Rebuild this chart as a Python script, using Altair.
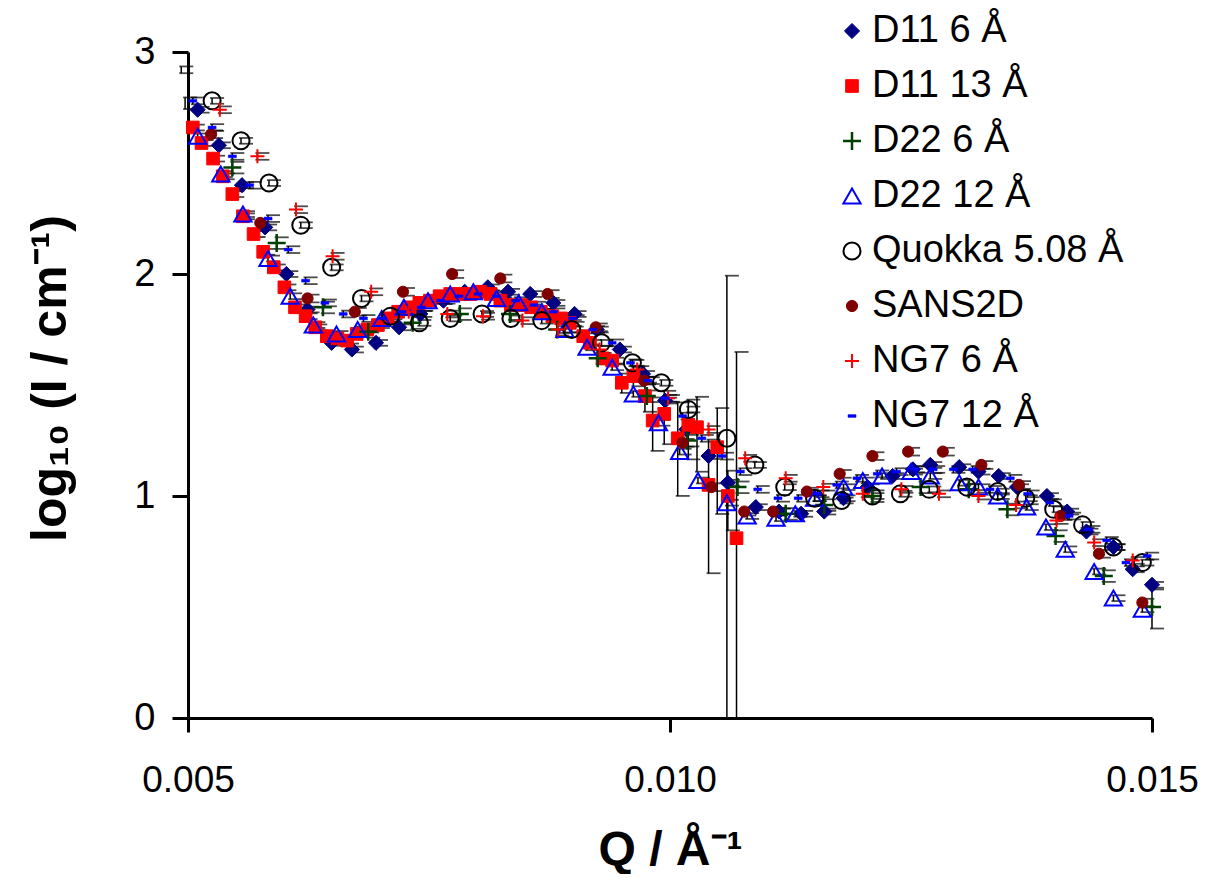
import altair as alt
import pandas as pd
import numpy as np

SERIES = ["D11 6 Å", "D11 13 Å", "D22 6 Å", "D22 12 Å",
          "Quokka 5.08 Å", "SANS2D", "NG7 6 Å", "NG7 12 Å"]

d11_6_q = [0.00510, 0.00532, 0.00556, 0.00580, 0.00602, 0.00624, 0.00649, 0.00670,
           0.00695, 0.00719, 0.00741, 0.00765, 0.00787, 0.00811, 0.00832, 0.00855,
           0.00879, 0.00901, 0.00924, 0.00948, 0.00972, 0.00995, 0.01017, 0.01040,
           0.01060, 0.01089, 0.01113, 0.01136, 0.01160, 0.01180, 0.01205, 0.01231,
           0.01252, 0.01270, 0.01300, 0.01320, 0.01341, 0.01360, 0.01391, 0.01412,
           0.01432, 0.01460, 0.01480, 0.01500]
d11_6_y = [2.74, 2.58, 2.40, 2.21, 2.00, 1.84, 1.69, 1.66,
           1.69, 1.76, 1.82, 1.88, 1.92, 1.94, 1.92, 1.91,
           1.87, 1.82, 1.75, 1.66, 1.55, 1.43, 1.30, 1.18,
           1.06, 0.95, 0.93, 0.92, 0.93, 0.99, 1.04, 1.09,
           1.12, 1.14, 1.13, 1.11, 1.09, 1.04, 1.00, 0.93,
           0.84, 0.77, 0.67, 0.60]

d11_13_q = [0.00505, 0.00514, 0.00526, 0.00536, 0.00546, 0.00557, 0.00568, 0.00578,
            0.00589, 0.00600, 0.00611, 0.00622, 0.00632, 0.00644, 0.00655, 0.00665,
            0.00675, 0.00686, 0.00697, 0.00707, 0.00718, 0.00730, 0.00740, 0.00751,
            0.00761, 0.00772, 0.00782, 0.00793, 0.00803, 0.00814, 0.00824, 0.00835,
            0.00845, 0.00856, 0.00866, 0.00878, 0.00887, 0.00896, 0.00910, 0.00917,
            0.00930, 0.00940, 0.00950, 0.00962, 0.00974, 0.00982, 0.00994, 0.01008,
            0.01019, 0.01028, 0.01040, 0.01049, 0.01060, 0.01069]
d11_13_y = [2.66, 2.59, 2.52, 2.44, 2.36, 2.26, 2.18, 2.10,
            2.03, 1.94, 1.85, 1.81, 1.76, 1.72, 1.71, 1.70,
            1.73, 1.75, 1.77, 1.80, 1.83, 1.85, 1.87, 1.88,
            1.90, 1.91, 1.91, 1.91, 1.92, 1.91, 1.88, 1.86,
            1.86, 1.85, 1.83, 1.81, 1.80, 1.78, 1.72, 1.69,
            1.62, 1.61, 1.51, 1.54, 1.45, 1.34, 1.37, 1.26,
            1.32, 1.31, 1.05, 1.22, 1.00, 0.81]

d22_6_q = [0.00497, 0.00546, 0.00592, 0.00640, 0.00687, 0.00733, 0.00782, 0.00834,
           0.00883, 0.00925, 0.00976, 0.01018, 0.01070, 0.01120, 0.01160, 0.01210,
           0.01260, 0.01310, 0.01350, 0.01400, 0.01450, 0.01500]
d22_6_y = [2.77, 2.48, 2.14, 1.85, 1.74, 1.78, 1.82, 1.82,
           1.75, 1.62, 1.45, 1.25, 1.04, 0.92, 0.96, 1.00,
           1.04, 1.03, 0.94, 0.82, 0.64, 0.50]

d22_12_q = [0.00510, 0.00534, 0.00557, 0.00583, 0.00606, 0.00630, 0.00654, 0.00676,
            0.00701, 0.00724, 0.00749, 0.00772, 0.00796, 0.00820, 0.00843, 0.00867,
            0.00891, 0.00914, 0.00940, 0.00962, 0.00988, 0.01010, 0.01029, 0.01059,
            0.01080, 0.01110, 0.01130, 0.01150, 0.01180, 0.01200, 0.01220, 0.01250,
            0.01270, 0.01300, 0.01320, 0.01340, 0.01370, 0.01390, 0.01410, 0.01440,
            0.01460, 0.01490]
d22_12_y = [2.62, 2.45, 2.27, 2.07, 1.90, 1.77, 1.73, 1.75,
            1.80, 1.85, 1.88, 1.91, 1.92, 1.89, 1.87, 1.83,
            1.75, 1.67, 1.58, 1.46, 1.33, 1.20, 1.07, 0.97,
            0.91, 0.90, 0.92, 0.99, 1.04, 1.07, 1.09, 1.11,
            1.09, 1.06, 1.04, 1.00, 0.95, 0.86, 0.76, 0.66,
            0.54, 0.49]

quokka_q = [0.00525, 0.00555, 0.00584, 0.00617, 0.00649, 0.00680, 0.00710, 0.00740,
            0.00772, 0.00805, 0.00835, 0.00867, 0.00898, 0.00929, 0.00961, 0.00991,
            0.01019, 0.01059, 0.01088, 0.01119, 0.01150, 0.01178, 0.01210, 0.01239,
            0.01269, 0.01308, 0.01340, 0.01369, 0.01398, 0.01428, 0.01460, 0.01490]
quokka_y = [2.78, 2.60, 2.41, 2.22, 2.03, 1.89, 1.81, 1.78,
            1.80, 1.82, 1.80, 1.79, 1.75, 1.69, 1.60, 1.51,
            1.39, 1.26, 1.14, 1.04, 0.99, 0.98, 1.00, 1.01,
            1.03, 1.04, 1.02, 0.99, 0.94, 0.87, 0.77, 0.70]

sans2d_q = [0.00524, 0.00575, 0.00624, 0.00673, 0.00723, 0.00774, 0.00824, 0.00873,
            0.00923, 0.00973, 0.01013, 0.01043, 0.01077, 0.01107, 0.01142, 0.01176,
            0.01210, 0.01247, 0.01283, 0.01323, 0.01362, 0.01405, 0.01445, 0.01490]
sans2d_y = [2.63, 2.23, 1.89, 1.83, 1.92, 2.00, 1.98, 1.91,
            1.76, 1.52, 1.24, 1.04, 0.93, 0.93, 1.02, 1.10,
            1.18, 1.20, 1.20, 1.14, 1.05, 0.91, 0.74, 0.52]

ng7_6_q = [0.00493, 0.00533, 0.00572, 0.00612, 0.00650, 0.00690, 0.00729, 0.00769,
           0.00806, 0.00847, 0.00884, 0.00927, 0.00966, 0.00998, 0.01040, 0.01078,
           0.01120, 0.01159, 0.01200, 0.01240, 0.01279, 0.01320, 0.01359, 0.01401,
           0.01440, 0.01480]
ng7_6_y = [2.92, 2.74, 2.53, 2.29, 2.08, 1.92, 1.83, 1.82,
           1.81, 1.79, 1.75, 1.66, 1.57, 1.44, 1.30, 1.17,
           1.08, 1.04, 1.01, 1.03, 1.01, 1.00, 0.96, 0.89,
           0.79, 0.71]

ng7_12_q = [0.00505, 0.00525, 0.00546, 0.00564, 0.00583, 0.00604, 0.00622, 0.00642,
            0.00661, 0.00682, 0.00702, 0.00722, 0.00742, 0.00762, 0.00781, 0.00801,
            0.00820, 0.00840, 0.00859, 0.00879, 0.00899, 0.00920, 0.00940, 0.00959,
            0.00977, 0.00995, 0.01013, 0.01033, 0.01054, 0.01073, 0.01091, 0.01112,
            0.01133, 0.01153, 0.01173, 0.01194, 0.01215, 0.01235, 0.01254, 0.01273,
            0.01294, 0.01314, 0.01332, 0.01353, 0.01371, 0.01394, 0.01414, 0.01434,
            0.01453, 0.01473, 0.01495]
ng7_12_y = [2.78, 2.66, 2.53, 2.40, 2.25, 2.11, 1.97, 1.87,
            1.82, 1.80, 1.80, 1.83, 1.85, 1.88, 1.90, 1.91,
            1.90, 1.88, 1.86, 1.83, 1.80, 1.75, 1.69, 1.60,
            1.52, 1.44, 1.36, 1.26, 1.18, 1.11, 1.03, 0.99,
            0.99, 1.01, 1.05, 1.08, 1.10, 1.11, 1.12, 1.12,
            1.12, 1.12, 1.03, 1.08, 1.01, 0.97, 0.91, 0.85,
            0.80, 0.70, 0.73]

# relative (linear-intensity) uncertainty per series, with per-point overrides
rel_err = [0.03, 0.03, 0.06, 0.03, 0.03, 0.04, 0.035, 0.035]
err_override = {
    ("D11 13 Å", 0.00950): 0.10, ("D11 13 Å", 0.00962): 0.10,
    ("D11 13 Å", 0.00974): 0.15, ("D11 13 Å", 0.00982): 0.27,
    ("D11 13 Å", 0.00994): 0.27, ("D11 13 Å", 0.01008): 0.45,
    ("D11 13 Å", 0.01019): 0.30, ("D11 13 Å", 0.01028): 0.37,
    ("D11 13 Å", 0.01040): 0.60, ("D11 13 Å", 0.01049): 0.50,
    ("D11 13 Å", 0.01060): 0.30, ("D11 13 Å", 0.01069): 5.9,
    ("Quokka 5.08 Å", 0.01059): 4.4,
    ("D22 6 Å", 0.01500): 0.20,
}

data = [(d11_6_q, d11_6_y), (d11_13_q, d11_13_y), (d22_6_q, d22_6_y),
        (d22_12_q, d22_12_y), (quokka_q, quokka_y), (sans2d_q, sans2d_y),
        (ng7_6_q, ng7_6_y), (ng7_12_q, ng7_12_y)]

rows = []
for name, (qs, ys), r0 in zip(SERIES, data, rel_err):
    for q, y in zip(qs, ys):
        r = err_override.get((name, q), r0)
        inten = 10 ** y
        hi = float(np.log10(inten * (1 + r)))
        if r < 1:
            lo = max(float(np.log10(inten * (1 - r))), 0.0)
        else:
            lo = 0.0
        rows.append({"series": name, "q": q, "logI": y, "lo": lo, "hi": hi})
df = pd.DataFrame(rows)

FONT = "Liberation Sans"
plus_path = "M-1,0H1M0,-1V1"
dash_path = "M-1,-0.35H1V0.35H-1Z"

shape_range = ["diamond", "square", plus_path, "triangle-up", "circle", "circle", plus_path, dash_path]
fill_range = ["#000080", "#FF0000", "transparent", "transparent", "transparent", "#800000", "transparent", "#0000FF"]
stroke_range = ["#000080", "#FF0000", "#004000", "#0000FF", "#000000", "#800000", "#FF0000", "#0000FF"]
size_range = [230, 160, 324, 300, 290, 125, 196, 64]
sw_range = [1, 1, 2.5, 2, 2, 1, 2, 0.5]

xscale = alt.Scale(domain=[0.005, 0.015], nice=False, zero=False)
yscale = alt.Scale(domain=[0, 3], nice=False, zero=False)

xaxis = alt.Axis(values=[0.005, 0.010, 0.015], format=".3f", title="Q / Å⁻¹",
                 grid=False, labelFlush=False, domainWidth=3, domainColor="black",
                 tickWidth=3, tickSize=14, tickColor="black",
                 labelFont=FONT, labelFontSize=37, labelColor="black", labelPadding=30,
                 titleFont=FONT, titleFontSize=48, titleFontWeight="bold", titleColor="black",
                 titleY=146, titleBaseline="alphabetic")
yaxis = alt.Axis(values=[0, 1, 2, 3], format="d", title="log₁₀ (I / cm⁻¹)",
                 grid=False, domainWidth=3, domainColor="black",
                 tickWidth=3, tickSize=16, tickColor="black",
                 labelFont=FONT, labelFontSize=38, labelColor="black", labelPadding=17,
                 titleFont=FONT, titleFontSize=50, titleFontWeight="bold", titleColor="black",
                 titleX=-123, titleY=326, titleBaseline="alphabetic")

legend = alt.Legend(title=None, orient="none", legendX=645, legendY=-40,
                    labelFont=FONT, labelFontSize=38, labelColor="black", labelLimit=0,
                    labelOffset=1, rowPadding=17, padding=0, symbolOpacity=1)

base = alt.Chart(df)

rules = base.mark_rule(color="black", strokeWidth=1.5).encode(
    x=alt.X("q:Q", scale=xscale, axis=xaxis),
    y=alt.Y("lo:Q", scale=yscale, axis=yaxis),
    y2="hi:Q",
)
caps_hi = base.mark_tick(color="black", orient="horizontal", size=14, thickness=1.8,
                         xOffset=5).encode(
    x=alt.X("q:Q", scale=xscale, axis=xaxis),
    y=alt.Y("hi:Q", scale=yscale, axis=yaxis),
)
caps_lo = base.transform_filter("datum.lo > 0").mark_tick(
    color="black", orient="horizontal", size=14, thickness=1.8, xOffset=5).encode(
    x=alt.X("q:Q", scale=xscale, axis=xaxis),
    y=alt.Y("lo:Q", scale=yscale, axis=yaxis),
)

points = base.transform_filter("datum.q >= 0.005").mark_point(opacity=1).encode(
    x=alt.X("q:Q", scale=xscale, axis=xaxis),
    y=alt.Y("logI:Q", scale=yscale, axis=yaxis),
    shape=alt.Shape("series:N", scale=alt.Scale(domain=SERIES, range=shape_range), legend=legend),
    fill=alt.Fill("series:N", scale=alt.Scale(domain=SERIES, range=fill_range), legend=legend),
    stroke=alt.Stroke("series:N", scale=alt.Scale(domain=SERIES, range=stroke_range), legend=legend),
    size=alt.Size("series:N", scale=alt.Scale(type="ordinal", domain=SERIES, range=size_range), legend=legend),
    strokeWidth=alt.StrokeWidth("series:N", scale=alt.Scale(type="ordinal", domain=SERIES, range=sw_range), legend=legend),
)

chart = alt.layer(rules, caps_hi, caps_lo, points).properties(
    width=964, height=666,
    autosize=alt.AutoSizeParams(type="none"),
    padding={"left": 180, "top": 44, "right": 46, "bottom": 156},
    background="white",
).configure_view(stroke=None)

chart.save("out.html", embed_options={"renderer": "svg", "actions": False})
